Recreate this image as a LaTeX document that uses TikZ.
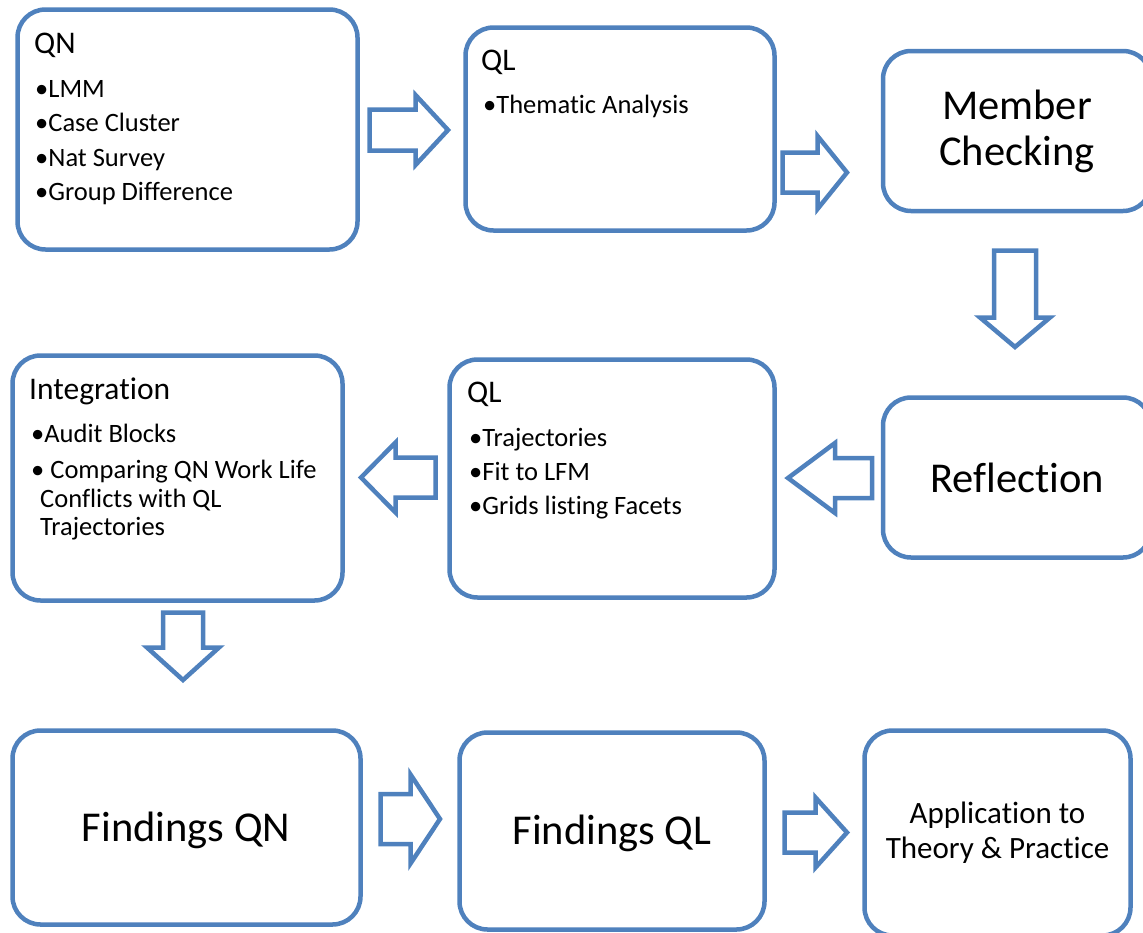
\documentclass[tikz,border=0pt]{standalone}
\usepackage{fontspec}
\setmainfont{Carlito}[Ligatures={NoCommon}]
\definecolor{boxblue}{HTML}{4F81BD}
\tikzset{
  box/.style={draw=boxblue, line width=4.5pt, rounded corners=28pt, fill=white,
    inner sep=0pt, align=center},
  title/.style={anchor=base west, inner sep=0pt, font=\fontsize{31.5}{36}\selectfont},
  item/.style={anchor=base west, inner sep=0pt, font=\fontsize{26.5}{30}\selectfont},
  big/.style={font=\fontsize{42.5}{46}\selectfont},
  arrowline/.style={draw=boxblue, line width=4.5pt, fill=white, line join=miter},
}
% block arrow: start coordinate, angle, shaft length, head length, shaft half width, head half width
\newcommand\flowarrow[6]{%
  \draw[arrowline, shift={(#1)}, rotate=#2]
    (0,-#5) -- (#3,-#5) -- (#3,-#6) -- (#3+#4,0) -- (#3,#6) -- (#3,#5) -- (0,#5) -- cycle;}
\begin{document}
\begin{tikzpicture}[x=1pt, y=-1pt]
\useasboundingbox (0,0) rectangle (1143,932);

% top row
\node[box, minimum width=340pt, minimum height=240pt] (qn) at (187.5,129.5) {};
\node[title] (qn-t) at (34,53) {QN};
\node[item] (qn-1) at (35,97) {•LMM};
\node[item] (qn-2) at (35,131) {•Case Cluster};
\node[item] (qn-3) at (35,166) {•Nat Survey};
\node[item] (qn-4) at (35,200) {•Group Difference};

\node[box, minimum width=309pt, minimum height=203pt] (ql1) at (620,129) {};
\node[title] (ql1-t) at (481,70) {QL};
\node[item] (ql1-1) at (483,113) {•Thematic Analysis};

\node[box, big, minimum width=268pt, minimum height=160pt] (member) at (1017,131) {Member\\Checking};

% middle row
\node[box, minimum width=330pt, minimum height=245pt] (integ) at (177.5,478) {};
\node[title] (integ-t) at (29,399) {Integration};
\node[item] (integ-1) at (31,442) {•Audit Blocks};
\node[item] (integ-2) at (31,478) {• Comparing QN Work Life};
\node[item] (integ-3) at (40,507) {Conflicts with QL};
\node[item] (integ-4) at (40,535) {Trajectories};

\node[box, minimum width=325pt, minimum height=238pt] (ql2) at (612,478.5) {};
\node[title] (ql2-t) at (467,402) {QL};
\node[item] (ql2-1) at (469,446) {•Trajectories};
\node[item] (ql2-2) at (469,480) {•Fit to LFM};
\node[item] (ql2-3) at (469,514) {•Grids listing Facets};

\node[box, big, minimum width=268pt, minimum height=160pt] (refl) at (1017,477.5) {Reflection};

% bottom row
\node[box, big, minimum width=348pt, minimum height=194pt] (fqn) at (186.5,827.5) {};
\node[big, inner sep=0pt] (fqn-l) at (186,830) {Findings QN};
\node[box, big, minimum width=305pt, minimum height=197pt] (fql) at (612,831) {};
\node[big, inner sep=0pt] (fql-l) at (612,833) {Findings QL};
\node[box, font=\fontsize{31}{35}\selectfont, minimum width=266pt, minimum height=205pt]
  (app) at (997.5,833) {Application to\\Theory \& Practice};

% block arrows between the boxes
\coordinate (a1) at (369.5,130);
\coordinate (a2) at (782.5,172.5);
\coordinate (a3) at (1015,250.5);
\coordinate (a4) at (872,478);
\coordinate (a5) at (435.5,477.5);
\coordinate (a6) at (183,612.5);
\coordinate (a7) at (380.5,819);
\coordinate (a8) at (784.5,832.5);
\flowarrow{a1}{0}{46}{32.5}{20.5}{35}
\flowarrow{a2}{0}{35}{29.5}{20}{36.5}
\flowarrow{a3}{-90}{67}{29.5}{21}{35}
\flowarrow{a4}{180}{37}{47}{20}{35}
\flowarrow{a5}{180}{40}{34.5}{20}{35}
\flowarrow{a6}{-90}{35}{32.5}{20}{36}
\flowarrow{a7}{0}{30}{29.5}{25}{44.5}
\flowarrow{a8}{0}{31}{31.5}{20}{35}
\end{tikzpicture}
\end{document}
